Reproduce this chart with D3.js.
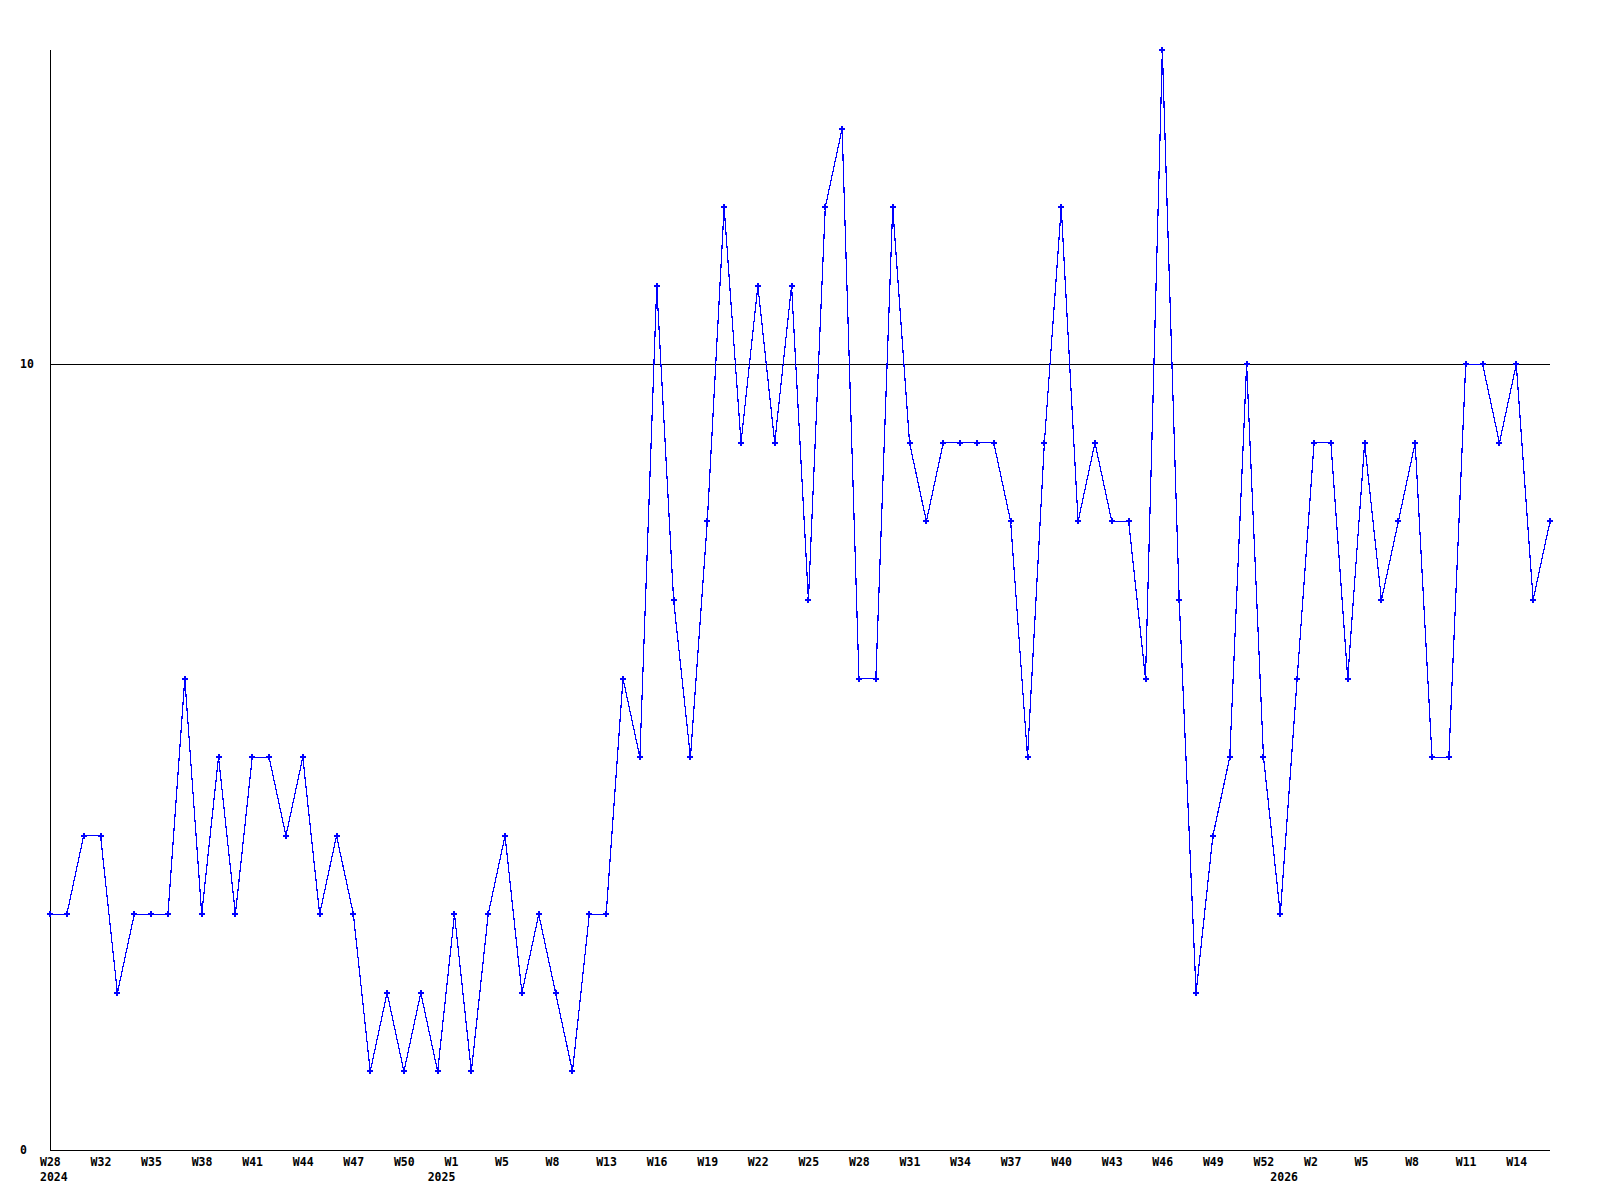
<!DOCTYPE html>
<html>
<head>
<meta charset="utf-8">
<script src="https://cdn.jsdelivr.net/npm/d3@7"></script>
<style>
  body { margin: 0; background: #fff; }
  text { font-family: "DejaVu Sans Mono", monospace; font-weight: bold; font-size: 11.5px; fill: #000; }
</style>
</head>
<body>
<script>
// weekly counts, one per point
var values = [3,3,4,4,2,3,3,3,6,3, 5,3,5,5,4,5,3,4,3,1, 2,1,2,1,3,1,3,4,2,3,
              2,1,3,3,6,5,11,7,5,8, 12,9,11,9,11,7,12,13,6,6, 12,9,8,9,9,9,9,8,5,9,
              12,8,9,8,8,6,14,7,2,4, 5,10,5,3,6,9,9,6,9,7, 8,9,5,5,10,10,9,10,7,8];
var weekLabels = ["W28","W32","W35","W38","W41","W44","W47","W50","W1","W5","W8","W13","W16","W19","W22",
                  "W25","W28","W31","W34","W37","W40","W43","W46","W49","W52","W2","W5","W8","W11","W14"];
var weekTicks = [0,3,6,9,12,15,18,21,24,27,30,33,36,39,42,45,48,51,54,57,60,63,66,69,72,75,78,81,84,87];
var years = ["2024","2025","2026"];
var yearTicks = [0,23,73];
var yTicks = [0,10];

var svg = d3.select("body").append("svg")
    .attr("width", 1600)
    .attr("height", 1200);

var x = d3.scaleLinear().domain([0, values.length - 1]).range([50, 1550]);
var y = d3.scaleLinear().domain([0, 14]).range([1150, 50]);

// grid line at 10
svg.selectAll(".grid")
    .data(yTicks.filter(function(d) { return d > 0; }))
  .enter().append("line")
    .attr("x1", 50).attr("x2", 1550)
    .attr("y1", function(d) { return Math.round(y(d)) + 0.5; })
    .attr("y2", function(d) { return Math.round(y(d)) + 0.5; })
    .attr("stroke", "#000").attr("stroke-width", 1);

// axes
svg.append("line")
    .attr("x1", 50.5).attr("x2", 50.5).attr("y1", 50).attr("y2", 1150.5)
    .attr("stroke", "#000");
svg.append("line")
    .attr("x1", 50).attr("x2", 1550).attr("y1", 1150.5).attr("y2", 1150.5)
    .attr("stroke", "#000");

svg.selectAll(".ylab")
    .data(yTicks)
  .enter().append("text")
    .attr("x", 20)
    .attr("y", function(d) { return y(d) + 4; })
    .text(function(d) { return d; });

svg.selectAll(".wlab")
    .data(weekLabels)
  .enter().append("text")
    .attr("x", function(d, i) { return x(weekTicks[i]) - 10; })
    .attr("y", 1166)
    .text(function(d) { return d; });

svg.selectAll(".yrlab")
    .data(years)
  .enter().append("text")
    .attr("x", function(d, i) { return x(yearTicks[i]) - 10; })
    .attr("y", 1181)
    .text(function(d) { return d; });

// series
var line = d3.line()
    .x(function(d, i) { return x(i); })
    .y(function(d) { return y(d); });

svg.append("path")
    .datum(values)
    .attr("fill", "none")
    .attr("stroke", "#0000ff")
    .attr("stroke-width", 1.2)
    .attr("shape-rendering", "crispEdges")
    .attr("d", line);

svg.selectAll(".mark")
    .data(values)
  .enter().append("path")
    .attr("transform", function(d, i) { return "translate(" + x(i) + "," + y(d) + ")"; })
    .attr("d", "M-3,0H3M0,-3V3")
    .attr("stroke", "#0000ff")
    .attr("stroke-width", 2)
    .attr("shape-rendering", "crispEdges");
</script>
</body>
</html>
